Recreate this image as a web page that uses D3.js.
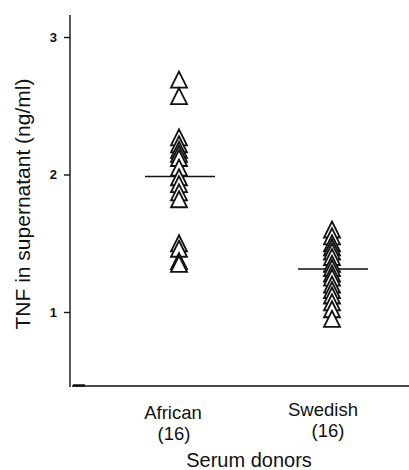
<!DOCTYPE html>
<html>
<head>
<meta charset="utf-8">
<script src="https://cdn.jsdelivr.net/npm/d3@7"></script>
<style>
  html, body { margin: 0; padding: 0; background: #fff; }
  svg { display: block; }
  text { font-family: "Liberation Sans", Arial, sans-serif; fill: #111; }
</style>
</head>
<body>
<svg id="chart" width="409" height="470"></svg>
<script>
// ---- data ----
const categories = ["African", "Swedish"];
const counts = [16, 16];
const africanValues = [2.69, 2.57, 2.27, 2.22, 2.18, 2.15, 2.12, 2.05, 1.98, 1.93, 1.87, 1.82, 1.50, 1.46, 1.37, 1.35];
const swedishValues = [1.60, 1.55, 1.50, 1.47, 1.44, 1.40, 1.35, 1.32, 1.28, 1.25, 1.20, 1.16, 1.12, 1.07, 1.02, 0.95];
const meanValues = [1.985, 1.313];
const yTickValues = [1, 2, 3];
const yLabel = "TNF in supernatant (ng/ml)";
const xLabel = "Serum donors";

// ---- layout ----
const svg = d3.select("#chart");
const y = d3.scaleLinear().domain([1, 3]).range([312, 37]);
const x = d3.scalePoint().domain(categories).range([179, 332]);
const axisX = 70;
const yTop = 15, yBottom = 386;

const seriesByCat = { "African": africanValues, "Swedish": swedishValues };

// y axis line
svg.append("line")
  .attr("x1", axisX).attr("x2", axisX)
  .attr("y1", yTop).attr("y2", yBottom + 1)
  .attr("stroke", "#111").attr("stroke-width", 1.4);

// y ticks via d3 axis
const yAxis = d3.axisLeft(y).tickValues(yTickValues).tickSize(6).tickPadding(7).tickFormat(d3.format("d"));
const gy = svg.append("g").attr("transform", `translate(${axisX},0)`).call(yAxis);
gy.select(".domain").remove();
gy.selectAll(".tick line").attr("stroke", "#111").attr("stroke-width", 1.4);
gy.selectAll(".tick text")
  .style("font-family", "'Liberation Sans', Arial, sans-serif")
  .style("font-size", "13px").style("font-weight", "bold").attr("fill", "#111");

// x axis line
svg.append("line")
  .attr("x1", axisX + 2).attr("x2", 409)
  .attr("y1", yBottom).attr("y2", yBottom)
  .attr("stroke", "#111").attr("stroke-width", 1.6);
svg.append("line")
  .attr("x1", axisX + 3).attr("x2", axisX + 15)
  .attr("y1", yBottom - 0.5).attr("y2", yBottom - 0.5)
  .attr("stroke", "#111").attr("stroke-width", 2.5);

// mean lines
svg.append("g").selectAll("line")
  .data(categories)
  .join("line")
  .attr("x1", d => x(d) - 34)
  .attr("x2", d => x(d) + 36)
  .attr("y1", (d, i) => y(meanValues[i]))
  .attr("y2", (d, i) => y(meanValues[i]))
  .attr("stroke", "#111").attr("stroke-width", 1.6);

// triangles
const triW = 16, triH = 16;
function tri(cx, cy) {
  return `M${cx},${cy - triH / 2}L${cx + triW / 2},${cy + triH / 2}L${cx - triW / 2},${cy + triH / 2}Z`;
}
const points = [];
categories.forEach(c => seriesByCat[c].forEach(v => points.push({ c, v })));
svg.append("g").selectAll("path")
  .data(points)
  .join("path")
  .attr("d", d => tri(x(d.c), y(d.v)))
  .attr("fill", "#fff")
  .attr("stroke", "#111")
  .attr("stroke-width", 1.8)
  .attr("stroke-linejoin", "miter");

// category labels
const labelDx = { "African": -6, "Swedish": -9 };
const countDx = { "African": -5, "Swedish": -4 };
const labelDy = { "African": 0, "Swedish": -3 };
const gl = svg.append("g");
categories.forEach((c, i) => {
  gl.append("text")
    .attr("x", x(c) + labelDx[c]).attr("y", 419 + labelDy[c])
    .attr("text-anchor", "middle").style("font-size", "18.5px")
    .text(c);
  gl.append("text")
    .attr("x", x(c) + countDx[c]).attr("y", 440 + labelDy[c])
    .attr("text-anchor", "middle").style("font-size", "18.5px")
    .text(`(${counts[i]})`);
});

// axis titles
svg.append("text")
  .attr("x", 249).attr("y", 467)
  .attr("text-anchor", "middle").style("font-size", "20px")
  .text(xLabel);

svg.append("text")
  .attr("transform", "translate(30,204) rotate(-90)")
  .attr("text-anchor", "middle").style("font-size", "21px")
  .text(yLabel);
</script>
</body>
</html>
